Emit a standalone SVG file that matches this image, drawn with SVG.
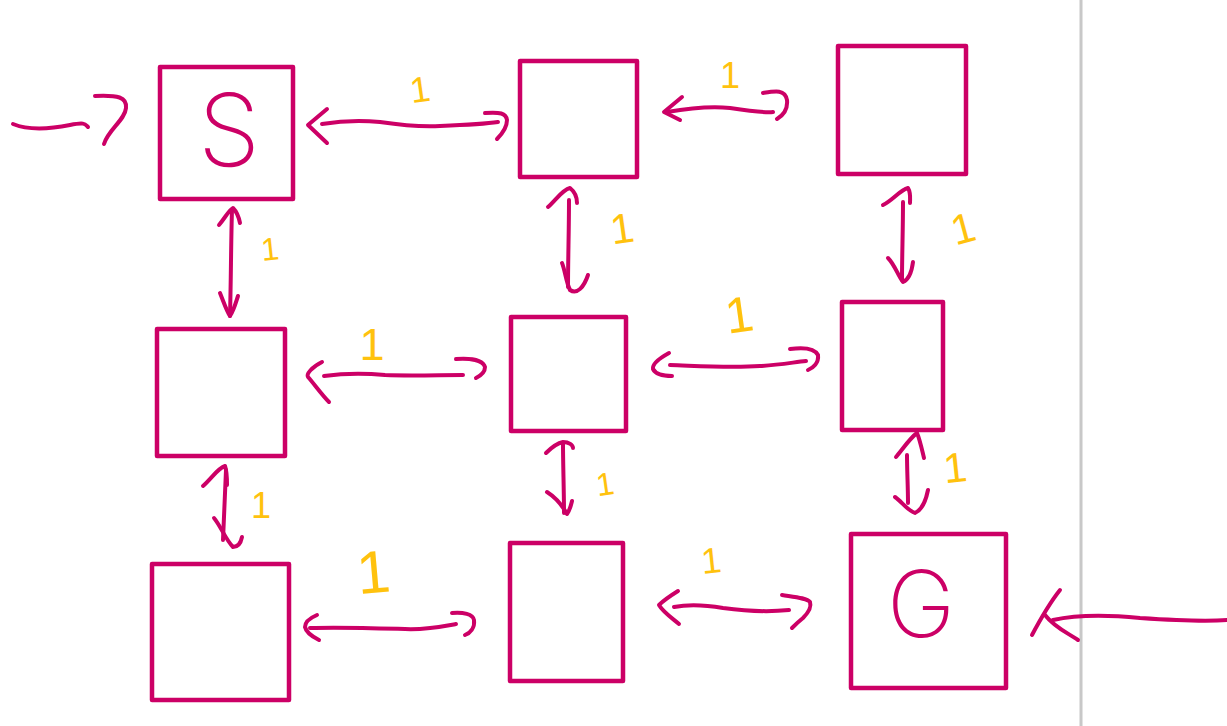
<svg xmlns="http://www.w3.org/2000/svg" width="1227" height="726" viewBox="0 0 1227 726">
<style>
.box{fill:none;stroke:#CC0066;stroke-width:4.5;stroke-linejoin:round}
.c path{fill:none;stroke:#CC0066;stroke-width:4;stroke-linecap:round;stroke-linejoin:round}
.w{fill:#FFC20E;font-family:"Liberation Sans",Arial,sans-serif;text-anchor:middle}
.lbl{fill:#CC0066;font-family:"Inter","Liberation Sans",sans-serif;font-weight:200;text-anchor:middle}
</style>
<rect x="0" y="0" width="1227" height="726" fill="#ffffff"/>
<line x1="1081" y1="0" x2="1081" y2="726" stroke="#c8c8c8" stroke-width="3"/>
<g id="nS"><rect class="box" x="160" y="67" width="133" height="132"/><text class="lbl" x="229" y="166" font-size="100">S</text></g>
<g id="nTM"><rect class="box" x="520" y="61" width="117" height="116"/></g>
<g id="nTR"><rect class="box" x="838" y="46" width="128" height="128"/></g>
<g id="nML"><rect class="box" x="157" y="329" width="128" height="127"/></g>
<g id="nMC"><rect class="box" x="511" y="317" width="115" height="114"/></g>
<g id="nMR"><rect class="box" x="842" y="302" width="101" height="128"/></g>
<g id="nBL"><rect class="box" x="152" y="564" width="137" height="136"/></g>
<g id="nBM"><rect class="box" x="510" y="543" width="113" height="138"/></g>
<g id="nG"><rect class="box" x="851" y="534" width="155" height="154"/><text class="lbl" x="921" y="637" font-size="92">G</text></g>
<g id="connectors" class="c">
<path d="M13,124 C30,131 55,128 70,125 S85,124 88,127"/>
<path d="M95,96 C118,95 127,97 126,108 C125,120 108,130 104,144"/>
<path d="M322,124 C340,121 360,120 380,122 C400,125 420,127 440,126 C465,125 485,124 498,122"/>
<path d="M327,109 L308,125 L327,143"/>
<path d="M485,113 C500,112 506,113 507,120 C507,128 502,134 497,139"/>
<path d="M667,112 C690,108 710,106 730,108 C750,111 765,113 773,112"/>
<path d="M682,97 L664,112 L680,120"/>
<path d="M763,93 C775,91 785,89 787,100 C788,110 782,116 777,119"/>
<path d="M232,210 C231,240 231,280 230,316"/>
<path d="M219,225 C225,218 229,210 233,208 C237,212 239,218 240,223"/>
<path d="M220,293 C224,303 227,312 230,316 C234,310 236,302 238,296"/>
<path d="M569,200 C569,230 568,260 568,287"/>
<path d="M548,207 C556,200 562,190 570,188 C575,192 577,198 577,203"/>
<path d="M562,263 C565,270 566,282 570,290 C577,295 584,287 588,275"/>
<path d="M903,202 C903,230 902,255 902,280"/>
<path d="M883,205 C893,200 900,190 908,188 C911,193 910,198 910,203"/>
<path d="M888,258 C895,265 898,276 903,282 C910,279 912,270 913,262"/>
<path d="M324,376 C345,373 365,373 385,375 C410,376 440,375 463,375"/>
<path d="M322,362 C312,367 306,374 308,377 C315,385 322,395 329,402"/>
<path d="M456,359 C470,358 483,360 485,367 C485,373 480,376 476,378"/>
<path d="M670,365 C700,366 730,368 760,366 C780,365 795,362 806,361"/>
<path d="M669,353 C660,358 652,364 653,369 C656,375 665,376 672,376"/>
<path d="M790,349 C805,347 815,349 818,355 C819,363 813,368 808,370"/>
<path d="M226,470 C225,490 224,515 223,540"/>
<path d="M203,486 C212,478 218,468 225,466 C227,472 227,478 227,485"/>
<path d="M214,518 C220,525 226,540 233,547 C239,547 241,542 242,537"/>
<path d="M563,443 C563,465 564,490 564,513"/>
<path d="M546,453 C552,447 558,443 563,442 C569,442 573,445 573,448"/>
<path d="M547,492 C555,497 562,505 567,514 C570,510 571,505 572,501"/>
<path d="M907,455 C907,470 908,488 908,503"/>
<path d="M896,457 C902,450 910,438 917,433 C920,440 922,450 924,458"/>
<path d="M895,497 C902,502 907,510 915,513 C922,510 926,500 928,490"/>
<path d="M310,628 C340,627 370,628 405,629 C425,630 445,626 456,624"/>
<path d="M317,615 C310,618 305,622 305,627 C306,632 313,637 319,640"/>
<path d="M452,613 C463,612 473,614 474,620 C475,628 470,633 465,635"/>
<path d="M674,607 C690,604 705,605 723,608 C745,611 770,612 789,610"/>
<path d="M678,591 C670,596 662,602 659,605 C663,612 672,618 679,624"/>
<path d="M782,595 C795,597 807,598 810,602 C812,608 808,613 803,618 C798,622 795,625 792,628"/>
<path d="M1227,620 C1200,622 1170,620 1140,618 C1110,615 1080,614 1053,620"/>
<path d="M1060,590 C1052,600 1040,620 1032,635"/>
<path d="M1045,615 C1055,628 1068,633 1078,640"/>
</g>
<g id="weights">
<text class="w" x="420" y="102" font-size="36" transform="rotate(-8 420 90)">1</text>
<text class="w" x="730" y="88" font-size="36">1</text>
<text class="w" x="270" y="260" font-size="32" transform="rotate(-6 270 250)">1</text>
<text class="w" x="622" y="243" font-size="42" transform="rotate(-8 622 228)">1</text>
<text class="w" x="963" y="243" font-size="42" transform="rotate(-15 963 228)">1</text>
<text class="w" x="372" y="360" font-size="45">1</text>
<text class="w" x="739" y="332" font-size="50" transform="rotate(-8 739 314)">1</text>
<text class="w" x="955" y="482" font-size="42" transform="rotate(-6 955 467)">1</text>
<text class="w" x="261" y="518" font-size="36">1</text>
<text class="w" x="605" y="495" font-size="32" transform="rotate(-8 605 484)">1</text>
<text class="w" x="373" y="593" font-size="60" transform="rotate(-5 373 570)">1</text>
<text class="w" x="711" y="573" font-size="36" transform="rotate(-6 711 560)">1</text>
</g>
</svg>
